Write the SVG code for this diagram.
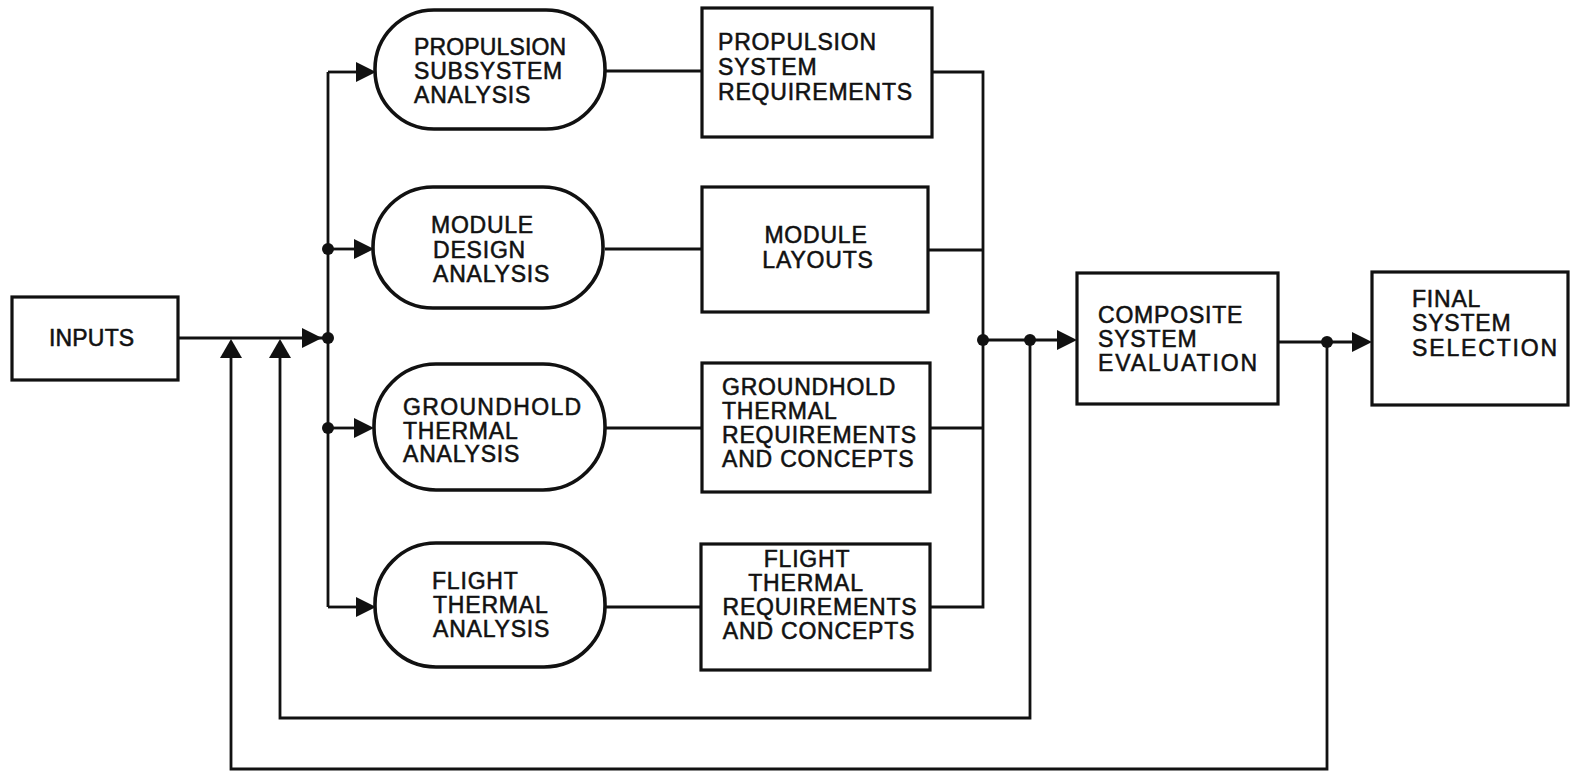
<svg xmlns="http://www.w3.org/2000/svg" width="1571" height="773" viewBox="0 0 1571 773">
  <style>
    .box { fill: #fff; stroke: #111; stroke-width: 3.2; }
    .oval { fill: #fff; stroke: #111; stroke-width: 3.6; }
    .wire { fill: none; stroke: #111; stroke-width: 2.8; stroke-linejoin: miter; }
    .dot { fill: #111; }
    .head { fill: #111; }
    text { font-family: "Liberation Sans", Arial, sans-serif; font-size: 23px; fill: #111; stroke: #111; stroke-width: 0.55; letter-spacing: 0.8px; }
  </style>
  <defs>
    <polygon id="arrowRight" class="head" points="0,0 -20,-10 -20,10"/>
    <polygon id="arrowUp" class="head" points="0,0 -11,19 11,19"/>
  </defs>

  <!-- connectors -->
  <g id="connectors">
    <!-- inputs to distribution bus -->
    <path class="wire" d="M178,338 H328"/>
    <use href="#arrowRight" x="322" y="338"/>
    <circle class="dot" cx="328" cy="338" r="6"/>
    <path class="wire" d="M328,72 V607"/>
    <!-- bus to analyses -->
    <path class="wire" d="M328,72 H360"/>
    <use href="#arrowRight" x="376" y="72"/>
    <path class="wire" d="M328,249 H358"/>
    <circle class="dot" cx="328" cy="249" r="6"/>
    <use href="#arrowRight" x="374" y="249"/>
    <path class="wire" d="M328,428 H358"/>
    <circle class="dot" cx="328" cy="428" r="6"/>
    <use href="#arrowRight" x="374" y="428"/>
    <path class="wire" d="M328,607 H360"/>
    <use href="#arrowRight" x="376" y="607"/>
    <!-- analyses to results -->
    <path class="wire" d="M605,71 H702"/>
    <path class="wire" d="M605,249 H702"/>
    <path class="wire" d="M605,428 H702"/>
    <path class="wire" d="M605,607 H701"/>
    <!-- results to collector bus -->
    <path class="wire" d="M932,72 H983 V607 H930"/>
    <path class="wire" d="M928,250 H983"/>
    <path class="wire" d="M930,428 H983"/>
    <circle class="dot" cx="983" cy="340" r="6"/>
    <path class="wire" d="M983,340 H1060"/>
    <circle class="dot" cx="1030" cy="340" r="6"/>
    <use href="#arrowRight" x="1077" y="340"/>
    <!-- evaluation to selection -->
    <path class="wire" d="M1278,342 H1355"/>
    <circle class="dot" cx="1327" cy="342" r="6"/>
    <use href="#arrowRight" x="1372" y="342"/>
    <!-- feedback loops -->
    <path class="wire" d="M1030,340 V718 H280 V356"/>
    <use href="#arrowUp" x="280" y="339"/>
    <path class="wire" d="M1327,342 V769 H231 V356"/>
    <use href="#arrowUp" x="231" y="339"/>
  </g>

  <g id="inputs">
    <rect class="box" x="12" y="297" width="166" height="83"/>
    <text x="49" y="346" textLength="86">INPUTS</text>
  </g>

  <g id="propulsion-analysis">
    <rect class="oval" x="375" y="10" width="230" height="119" rx="59" ry="59"/>
    <text x="414" y="55" textLength="153">PROPULSION</text>
    <text x="414" y="79">SUBSYSTEM</text>
    <text x="414" y="103">ANALYSIS</text>
  </g>

  <g id="module-analysis">
    <rect class="oval" x="373" y="187" width="230" height="121" rx="60" ry="60"/>
    <text x="431" y="233" textLength="103">MODULE</text>
    <text x="433" y="258">DESIGN</text>
    <text x="433" y="282">ANALYSIS</text>
  </g>

  <g id="groundhold-analysis">
    <rect class="oval" x="374" y="364" width="231" height="126" rx="62" ry="62"/>
    <text x="403" y="415" textLength="179">GROUNDHOLD</text>
    <text x="403" y="439">THERMAL</text>
    <text x="403" y="462">ANALYSIS</text>
  </g>

  <g id="flight-analysis">
    <rect class="oval" x="375" y="543" width="230" height="124" rx="61" ry="61"/>
    <text x="432" y="589">FLIGHT</text>
    <text x="433" y="613">THERMAL</text>
    <text x="433" y="637">ANALYSIS</text>
  </g>

  <g id="propulsion-requirements">
    <rect class="box" x="702" y="8" width="230" height="129"/>
    <text x="718" y="50">PROPULSION</text>
    <text x="718" y="75">SYSTEM</text>
    <text x="718" y="100">REQUIREMENTS</text>
  </g>

  <g id="module-layouts">
    <rect class="box" x="702" y="187" width="226" height="125"/>
    <text x="816" y="243" text-anchor="middle">MODULE</text>
    <text x="818" y="268" text-anchor="middle">LAYOUTS</text>
  </g>

  <g id="groundhold-requirements">
    <rect class="box" x="702" y="363" width="228" height="129"/>
    <text x="722" y="395">GROUNDHOLD</text>
    <text x="722" y="419">THERMAL</text>
    <text x="722" y="443">REQUIREMENTS</text>
    <text x="722" y="467">AND CONCEPTS</text>
  </g>

  <g id="flight-requirements">
    <rect class="box" x="701" y="544" width="229" height="126"/>
    <text x="807" y="567" text-anchor="middle">FLIGHT</text>
    <text x="806" y="591" text-anchor="middle">THERMAL</text>
    <text x="820" y="615" text-anchor="middle">REQUIREMENTS</text>
    <text x="819" y="639" text-anchor="middle">AND CONCEPTS</text>
  </g>

  <g id="composite-evaluation">
    <rect class="box" x="1077" y="273" width="201" height="131"/>
    <text x="1098" y="323">COMPOSITE</text>
    <text x="1098" y="347">SYSTEM</text>
    <text x="1098" y="371" textLength="160">EVALUATION</text>
  </g>

  <g id="final-selection">
    <rect class="box" x="1372" y="272" width="196" height="133"/>
    <text x="1412" y="307">FINAL</text>
    <text x="1412" y="331">SYSTEM</text>
    <text x="1412" y="356" textLength="146">SELECTION</text>
  </g>
</svg>
